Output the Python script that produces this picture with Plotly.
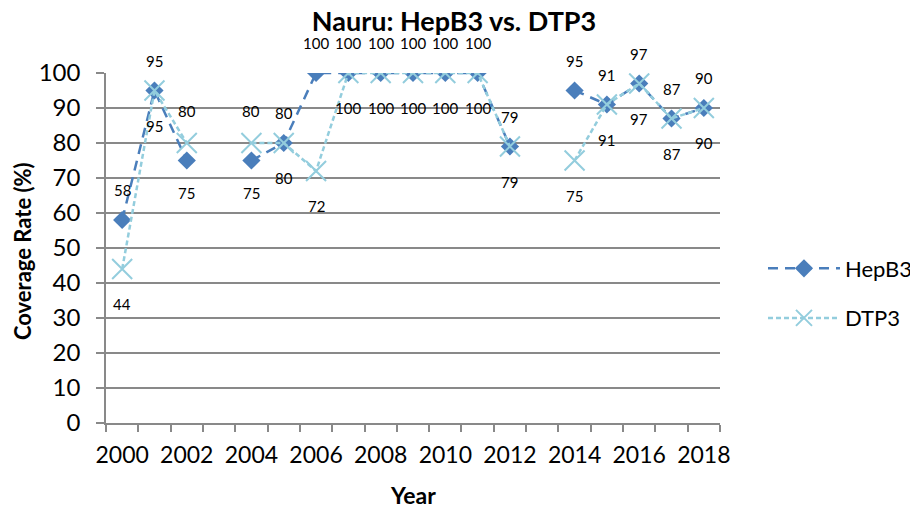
import plotly.graph_objects as go

years = list(range(2000, 2019))
hepb3 = [58, 95, 75, None, 75, 80, 100, 100, 100, 100, 100, 100, 79, None, 95, 91, 97, 87, 90]
dtp3 = [44, 95, 80, None, 80, 80, 72, 100, 100, 100, 100, 100, 79, None, 75, 91, 97, 87, 90]
tick_labels = [str(y) for y in range(2000, 2019, 2)]

FONT = "Lato"
C_HEP = "#4A7EBB"
C_DTP = "#93CDDD"
GRID = "#898989"
# the page body adds an 8px offset, so the figure is drawn 8px smaller
W, H, OFF = 918 - 8, 513 - 8, 8

fig = go.Figure()
fig.add_trace(go.Scatter(
    x=years, y=hepb3, name="HepB3", mode="lines+markers",
    line=dict(color=C_HEP, width=2.5, dash="10px,7px"),
    marker=dict(symbol="diamond", size=14, color=C_HEP),
    connectgaps=False, legendgroup="a",
))
fig.add_trace(go.Scatter(
    x=years, y=dtp3, name="DTP3", mode="lines+markers",
    line=dict(color=C_DTP, width=2.5, dash="5px,3px"),
    marker=dict(symbol="x-thin", size=20, line=dict(color=C_DTP, width=2)),
    connectgaps=False, legendgroup="b",
))

annotations = []
for x, h, d in zip(years, hepb3, dtp3):
    if h is None:
        continue
    h_up = h >= d
    annotations.append(dict(x=x, y=h, text=str(h), showarrow=False,
                            yshift=30 if h_up else -32,
                            font=dict(family=FONT, size=15, color="black")))
    annotations.append(dict(x=x, y=d, text=str(d), showarrow=False,
                            yshift=-35 if h_up else 32,
                            font=dict(family=FONT, size=15, color="black")))

annotations.append(dict(text="<b>Year</b>", xref="paper", yref="paper", x=0.5, y=0,
                        yshift=-72, xanchor="center", yanchor="middle", showarrow=False,
                        font=dict(family=FONT, size=23, color="black")))
annotations.append(dict(text="<b>Coverage Rate (%)</b>", xref="paper", yref="paper",
                        x=0, xshift=-(106 - 22), y=0.5, yshift=-3, textangle=-90,
                        xanchor="center", yanchor="middle", showarrow=False,
                        font=dict(family=FONT, size=22, color="black")))

fig.update_layout(
    width=W, height=H,
    margin=dict(l=106 - OFF, r=198, t=73 - OFF, b=90, autoexpand=False),
    paper_bgcolor="white", plot_bgcolor="white",
    font=dict(family=FONT, color="black"),
    title=dict(text="<b>Nauru: HepB3 vs. DTP3</b>", x=(454 - OFF) / W, xanchor="center",
               xref="container", y=1, yanchor="top", yref="container",
               pad=dict(t=4, b=0, l=0, r=0),
               font=dict(size=27, family=FONT)),
    xaxis=dict(
        range=[1999.5, 2018.5], tickmode="array",
        tickvals=list(range(2000, 2019, 2)), ticktext=tick_labels,
        ticks="", showgrid=False, zeroline=False, automargin=False,
        showline=True, linecolor=GRID, linewidth=1.5,
        tickfont=dict(size=23, family=FONT), ticklabelstandoff=11,
        minor=dict(tickmode="linear", tick0=1999.5, dtick=1, ticks="outside",
                   ticklen=7, tickwidth=1.5, tickcolor=GRID, showgrid=False),
    ),
    yaxis=dict(
        range=[0, 100], tickmode="linear", tick0=0, dtick=10,
        ticks="outside", ticklen=8, tickwidth=1.5, tickcolor=GRID,
        showgrid=True, gridcolor=GRID, gridwidth=1.5, zeroline=False, automargin=False,
        showline=True, linecolor=GRID, linewidth=1.5,
        tickfont=dict(size=24, family=FONT), ticklabelstandoff=11,
    ),
    legend=dict(x=1.07, xanchor="left", y=0.37, yanchor="middle",
                font=dict(size=22, family=FONT), itemwidth=72,
                traceorder="grouped", tracegroupgap=18,
                bgcolor="rgba(0,0,0,0)"),
    annotations=annotations,
)

fig.write_html("out.html")
